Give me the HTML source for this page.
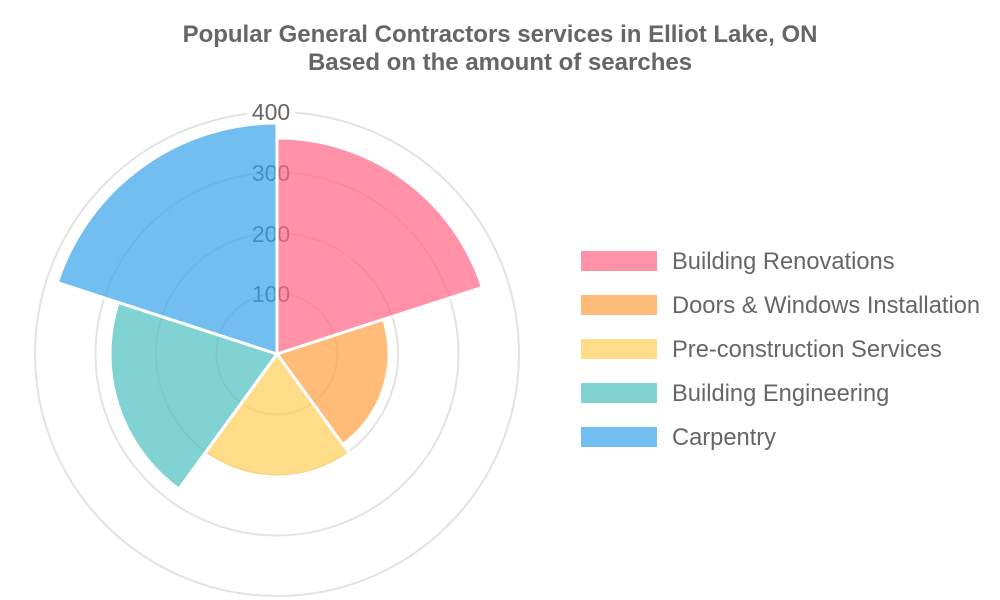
<!DOCTYPE html><html><head><style>body{margin:0;background:#fff}svg{display:block}</style></head><body>
<svg width="1000" height="600" xmlns="http://www.w3.org/2000/svg" font-family="Liberation Sans, sans-serif">
<text x="500" y="42" text-anchor="middle" font-size="24" font-weight="bold" fill="#666">Popular General Contractors services in Elliot Lake, ON</text>
<text x="500" y="70" text-anchor="middle" font-size="24" font-weight="bold" fill="#666">Based on the amount of searches</text>
<g fill="none" stroke="#e3e3e3" stroke-width="2">
<circle cx="277" cy="354" r="60.5"/><circle cx="277" cy="354" r="121"/><circle cx="277" cy="354" r="181.5"/><circle cx="277" cy="354" r="242"/></g>
<g font-size="23" fill="#666" text-anchor="middle">
<rect x="247" y="100" width="48" height="24" fill="#fff"/>
<text x="271" y="120">400</text><text x="271" y="181">300</text><text x="271" y="242">200</text><text x="271" y="302">100</text></g>
<g stroke="#fff" stroke-width="3" stroke-linejoin="round" fill-opacity="0.7">
<path d="M277,354 L277,138 A216,216 0 0 1 482.4,287.3 Z" fill="rgb(255,99,132)"/>
<path d="M277,354 L383.5,319.4 A112,112 0 0 1 342.8,444.6 Z" fill="rgb(255,159,64)"/>
<path d="M277,354 L349.3,453.5 A123,123 0 0 1 204.7,453.5 Z" fill="rgb(255,205,86)"/>
<path d="M277,354 L178.8,489.1 A167,167 0 0 1 118.2,302.4 Z" fill="rgb(75,192,192)"/>
<path d="M277,354 L57.3,282.6 A231,231 0 0 1 277,123 Z" fill="rgb(54,162,235)"/>
</g>
<g font-size="23.7" fill="#666">
<rect x="581" y="251" width="76" height="20" fill="rgb(255,146,168)"/><text x="672" y="269">Building Renovations</text>
<rect x="581" y="295" width="76" height="20" fill="rgb(255,188,121)"/><text x="672" y="313">Doors &amp; Windows Installation</text>
<rect x="581" y="339" width="76" height="20" fill="rgb(255,220,136)"/><text x="672" y="357">Pre-construction Services</text>
<rect x="581" y="383" width="76" height="20" fill="rgb(129,211,211)"/><text x="672" y="401">Building Engineering</text>
<rect x="581" y="427" width="76" height="20" fill="rgb(114,190,241)"/><text x="672" y="445">Carpentry</text>
</g>
</svg></body></html>
